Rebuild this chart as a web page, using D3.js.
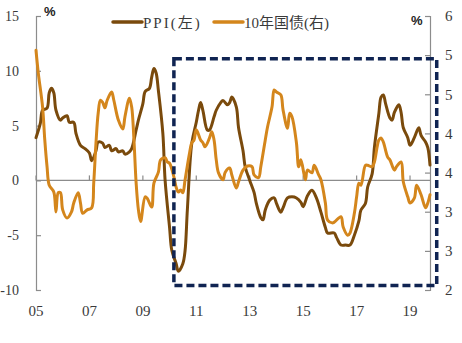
<!DOCTYPE html>
<html><head><meta charset="utf-8">
<script src="https://cdn.jsdelivr.net/npm/d3@7"></script>
<style>
html,body{margin:0;padding:0;background:#fff;}
svg{display:block;}
</style></head>
<body>
<svg id="chart" width="462" height="343"></svg>
<script>
// ---- data ----
const ppiDates = ["2005-01","2005-03","2005-04","2005-06","2005-07","2005-08","2005-09","2005-10","2005-12","2006-01","2006-03","2006-04","2006-06","2006-07","2006-09","2006-11","2007-01","2007-02","2007-04","2007-05","2007-07","2007-08","2007-10","2007-11","2008-01","2008-02","2008-04","2008-05","2008-07","2008-08","2008-10","2008-11","2009-01","2009-02","2009-04","2009-05","2009-06","2009-07","2009-08","2009-10","2009-11","2010-01","2010-02","2010-04","2010-05","2010-07","2010-08","2010-09","2010-11","2011-01","2011-02","2011-03","2011-04","2011-06","2011-07","2011-09","2011-10","2011-12","2012-01","2012-03","2012-04","2012-05","2012-07","2012-08","2012-10","2012-11","2013-01","2013-03","2013-04","2013-06","2013-07","2013-08","2013-10","2013-12","2014-01","2014-03","2014-04","2014-06","2014-08","2014-10","2014-12","2015-01","2015-03","2015-05","2015-07","2015-09","2015-11","2015-12","2016-03","2016-04","2016-06","2016-08","2016-10","2016-12","2017-02","2017-03","2017-05","2017-06","2017-08","2017-09","2017-11","2017-12","2018-01","2018-02","2018-04","2018-05","2018-06","2018-08","2018-09","2018-10","2018-12","2019-01","2019-03","2019-05","2019-06","2019-08","2019-09","2019-10"];
const ppiValues = [3.9,5.2,6.4,6.6,8.0,8.4,8.0,6.4,5.5,5.7,5.9,5.3,5.3,4.3,3.2,2.9,2.5,1.8,2.7,3.5,3.4,3.0,3.2,2.7,2.9,2.6,2.7,2.4,2.6,2.9,4.6,5.5,7.0,8.1,8.4,9.4,10.2,9.8,8.2,4.3,0.0,-4.3,-6.4,-7.6,-8.3,-7.6,-6.4,-2.7,3.4,5.3,6.4,7.1,6.4,4.6,4.6,5.8,6.4,7.1,7.3,6.9,7.1,7.6,6.7,4.8,2.7,1.2,0.0,-1.1,-2.1,-3.4,-3.6,-2.7,-1.8,-1.6,-2.1,-2.9,-2.5,-1.6,-1.5,-1.6,-2.0,-2.4,-1.4,-0.9,-1.6,-2.9,-4.3,-4.8,-4.8,-5.2,-5.9,-5.9,-5.9,-5.0,-3.7,-2.7,-2.1,-0.6,0.6,3.0,6.1,7.6,7.8,7.0,5.7,5.5,6.2,6.9,6.2,4.8,3.9,3.2,3.9,4.8,4.1,3.5,3.0,1.4];

const bondDates = ["2005-01","2005-02","2005-04","2005-05","2005-06","2005-07","2005-09","2005-10","2005-11","2005-12","2006-01","2006-03","2006-05","2006-06","2006-08","2006-09","2006-10","2006-12","2007-02","2007-03","2007-04","2007-05","2007-06","2007-07","2007-08","2007-09","2007-11","2007-12","2008-02","2008-04","2008-05","2008-07","2008-08","2008-09","2008-10","2008-11","2008-12","2009-02","2009-03","2009-05","2009-06","2009-08","2009-09","2009-11","2009-12","2010-01","2010-03","2010-04","2010-05","2010-06","2010-07","2010-08","2010-10","2010-11","2010-12","2011-01","2011-03","2011-04","2011-05","2011-07","2011-08","2011-09","2011-10","2011-11","2012-01","2012-02","2012-04","2012-05","2012-07","2012-08","2012-10","2012-12","2013-02","2013-03","2013-05","2013-06","2013-08","2013-09","2013-11","2013-12","2014-01","2014-03","2014-04","2014-06","2014-07","2014-08","2014-10","2014-11","2014-12","2015-02","2015-03","2015-05","2015-06","2015-08","2015-09","2015-11","2015-12","2016-02","2016-03","2016-06","2016-07","2016-09","2016-10","2016-12","2017-01","2017-02","2017-03","2017-05","2017-06","2017-08","2017-09","2017-11","2017-12","2018-01","2018-03","2018-04","2018-06","2018-07","2018-09","2018-10","2018-12","2019-01","2019-03","2019-04","2019-06","2019-08","2019-09","2019-10"];
const bondValues = [5.50,5.17,4.67,4.19,3.80,3.53,3.43,3.14,3.42,3.42,3.17,3.05,3.14,3.27,3.42,3.27,3.12,3.17,3.20,3.56,4.15,4.58,4.77,4.74,4.66,4.77,4.89,4.77,4.48,4.35,4.53,4.80,4.67,4.19,3.56,3.17,3.00,3.36,3.34,3.21,3.56,3.72,3.90,3.93,3.87,3.85,3.65,3.50,3.43,3.46,3.42,3.61,4.00,4.15,4.19,4.34,4.19,4.15,4.09,4.22,4.31,4.19,3.90,3.71,3.61,3.72,3.78,3.68,3.49,3.58,3.75,3.81,3.80,3.68,3.64,3.80,4.19,4.38,4.67,4.92,4.89,4.85,4.63,4.36,4.58,4.53,4.15,3.80,3.90,3.61,3.75,3.71,3.82,3.68,3.61,3.27,3.02,2.98,2.99,3.07,2.92,2.80,2.83,3.12,3.36,3.56,3.53,3.82,3.82,3.80,3.87,4.19,4.22,4.16,3.94,3.90,3.75,3.80,3.87,3.58,3.36,3.27,3.34,3.53,3.39,3.20,3.27,3.39];

const xTickDates = ["2005-01","2007-01","2009-01","2011-01","2013-01","2015-01","2017-01","2019-01"];
const xTickLabels = ["05","07","09","11","13","15","17","19"];
const leftTickValues = [-10,-5,0,5,10,15];
const rightTickValues = [2,2.571,3.143,3.714,4.286,4.857,5.429,6];
const seriesNames = ["PPI(左)","10年国债(右)"];
const highlightBox = {from:"2010-03-01", to:"2020-01-01", top:11.1, bottom:-9.6};

// ---- chart ----
const SERIF = "'Liberation Serif','DejaVu Serif','Times New Roman','Noto Sans CJK SC',serif";
const parse = d3.timeParse("%Y-%m");
const svg = d3.select("#chart");
const L = 36, R = 430, T = 16, B = 290;
const x = d3.scaleTime().domain([parse("2005-01"), parse("2019-10")]).range([L, R]);
const yL = d3.scaleLinear().domain([-10, 15]).range([B, T]);
const yR = d3.scaleLinear().domain([2, 6]).range([B, T]);

const ppi = ppiDates.map((d,i)=>({d:parse(d), v:ppiValues[i]}));
const bond = bondDates.map((d,i)=>({d:parse(d), v:bondValues[i]}));

const axisCol = "#8c8c8c", txtCol = "#3a3a3a";

// zero line
svg.append("line").attr("x1",L).attr("x2",R).attr("y1",yL(0)).attr("y2",yL(0))
  .attr("stroke",axisCol).attr("stroke-width",1.2);
// x ticks on zero line (upwards)
svg.append("g").selectAll("line").data(xTickDates).join("line")
  .attr("x1",d=>x(parse(d))).attr("x2",d=>x(parse(d)))
  .attr("y1",yL(0)).attr("y2",yL(0)-5).attr("stroke",axisCol).attr("stroke-width",1.2);
// x labels
svg.append("g").selectAll("text").data(xTickDates).join("text")
  .attr("x",d=>x(parse(d))).attr("y",316).attr("text-anchor","middle")
  .style("font-family",SERIF).attr("fill",txtCol)
  .attr("font-size",15).text((d,i)=>xTickLabels[i]);

// left axis
const gl = svg.append("g").attr("transform",`translate(${L},0)`)
  .call(d3.axisRight(yL).tickValues(leftTickValues).tickSize(5).tickFormat(""));
gl.select(".domain").attr("stroke",axisCol).attr("stroke-width",1.2);
gl.selectAll(".tick line").attr("stroke",axisCol).attr("stroke-width",1.2);
svg.append("g").selectAll("text").data(leftTickValues).join("text")
  .attr("x",19).attr("y",d=>yL(d)).attr("dy","0.35em").attr("text-anchor","end")
  .style("font-family",SERIF).attr("fill",txtCol)
  .attr("font-size",14).text(d=>d);

// right axis
const gr = svg.append("g").attr("transform",`translate(${R},0)`)
  .call(d3.axisLeft(yR).tickValues(rightTickValues).tickSize(5).tickFormat(""));
gr.select(".domain").attr("stroke",axisCol).attr("stroke-width",1.2);
gr.selectAll(".tick line").attr("stroke",axisCol).attr("stroke-width",1.2);
svg.append("g").selectAll("text").data(rightTickValues).join("text")
  .attr("x",445).attr("y",d=>yR(d)).attr("dy","0.35em").attr("text-anchor","start")
  .style("font-family",SERIF).attr("fill",txtCol)
  .attr("font-size",15).text(d=>d3.format(".0f")(d));

// % labels
svg.append("text").attr("x",44).attr("y",16).attr("font-size",13).attr("font-weight","bold").attr("fill","#222")
  .style("font-family","'Liberation Sans',Arial,sans-serif").text("%");
svg.append("text").attr("x",411).attr("y",25).attr("font-size",13).attr("font-weight","bold").attr("fill","#222")
  .style("font-family","'Liberation Sans',Arial,sans-serif").text("%");

// lines
const colPPI = "#7a4a0c", colBond = "#d4861c";
const line = (ys)=>d3.line().x(d=>x(d.d)).y(d=>ys(d.v)).curve(d3.curveCatmullRom.alpha(0.5));
svg.append("path").datum(ppi).attr("d",line(yL)).attr("fill","none")
  .attr("stroke",colPPI).attr("stroke-width",3).attr("stroke-linejoin","round").attr("stroke-linecap","round");
svg.append("path").datum(bond).attr("d",line(yR)).attr("fill","none")
  .attr("stroke",colBond).attr("stroke-width",3).attr("stroke-linejoin","round").attr("stroke-linecap","round");

// highlight box
const bx0 = x(new Date(highlightBox.from)), bx1 = x(new Date(highlightBox.to));
const by0 = yL(highlightBox.top), by1 = yL(highlightBox.bottom);
svg.append("rect").attr("x",bx0).attr("y",by0).attr("width",bx1-bx0).attr("height",by1-by0)
  .attr("fill","none").attr("stroke","#102452").attr("stroke-width",3.5).attr("stroke-dasharray","8,4");

// legend
const lg = svg.append("g");
const legX = [113, 214];
[colPPI, colBond].forEach((c,i)=>{
  lg.append("line").attr("x1",legX[i]).attr("x2",legX[i]+29).attr("y1",22).attr("y2",22)
    .attr("stroke",c).attr("stroke-width",3.5).attr("stroke-linecap","round");
  lg.append("text").attr("x",legX[i]+30).attr("y",28).attr("font-size",15)
    .style("font-family",SERIF).attr("fill",txtCol)
    .attr("letter-spacing", i===0 ? "2px" : "0px").text(seriesNames[i]);
});
</script>
</body></html>
